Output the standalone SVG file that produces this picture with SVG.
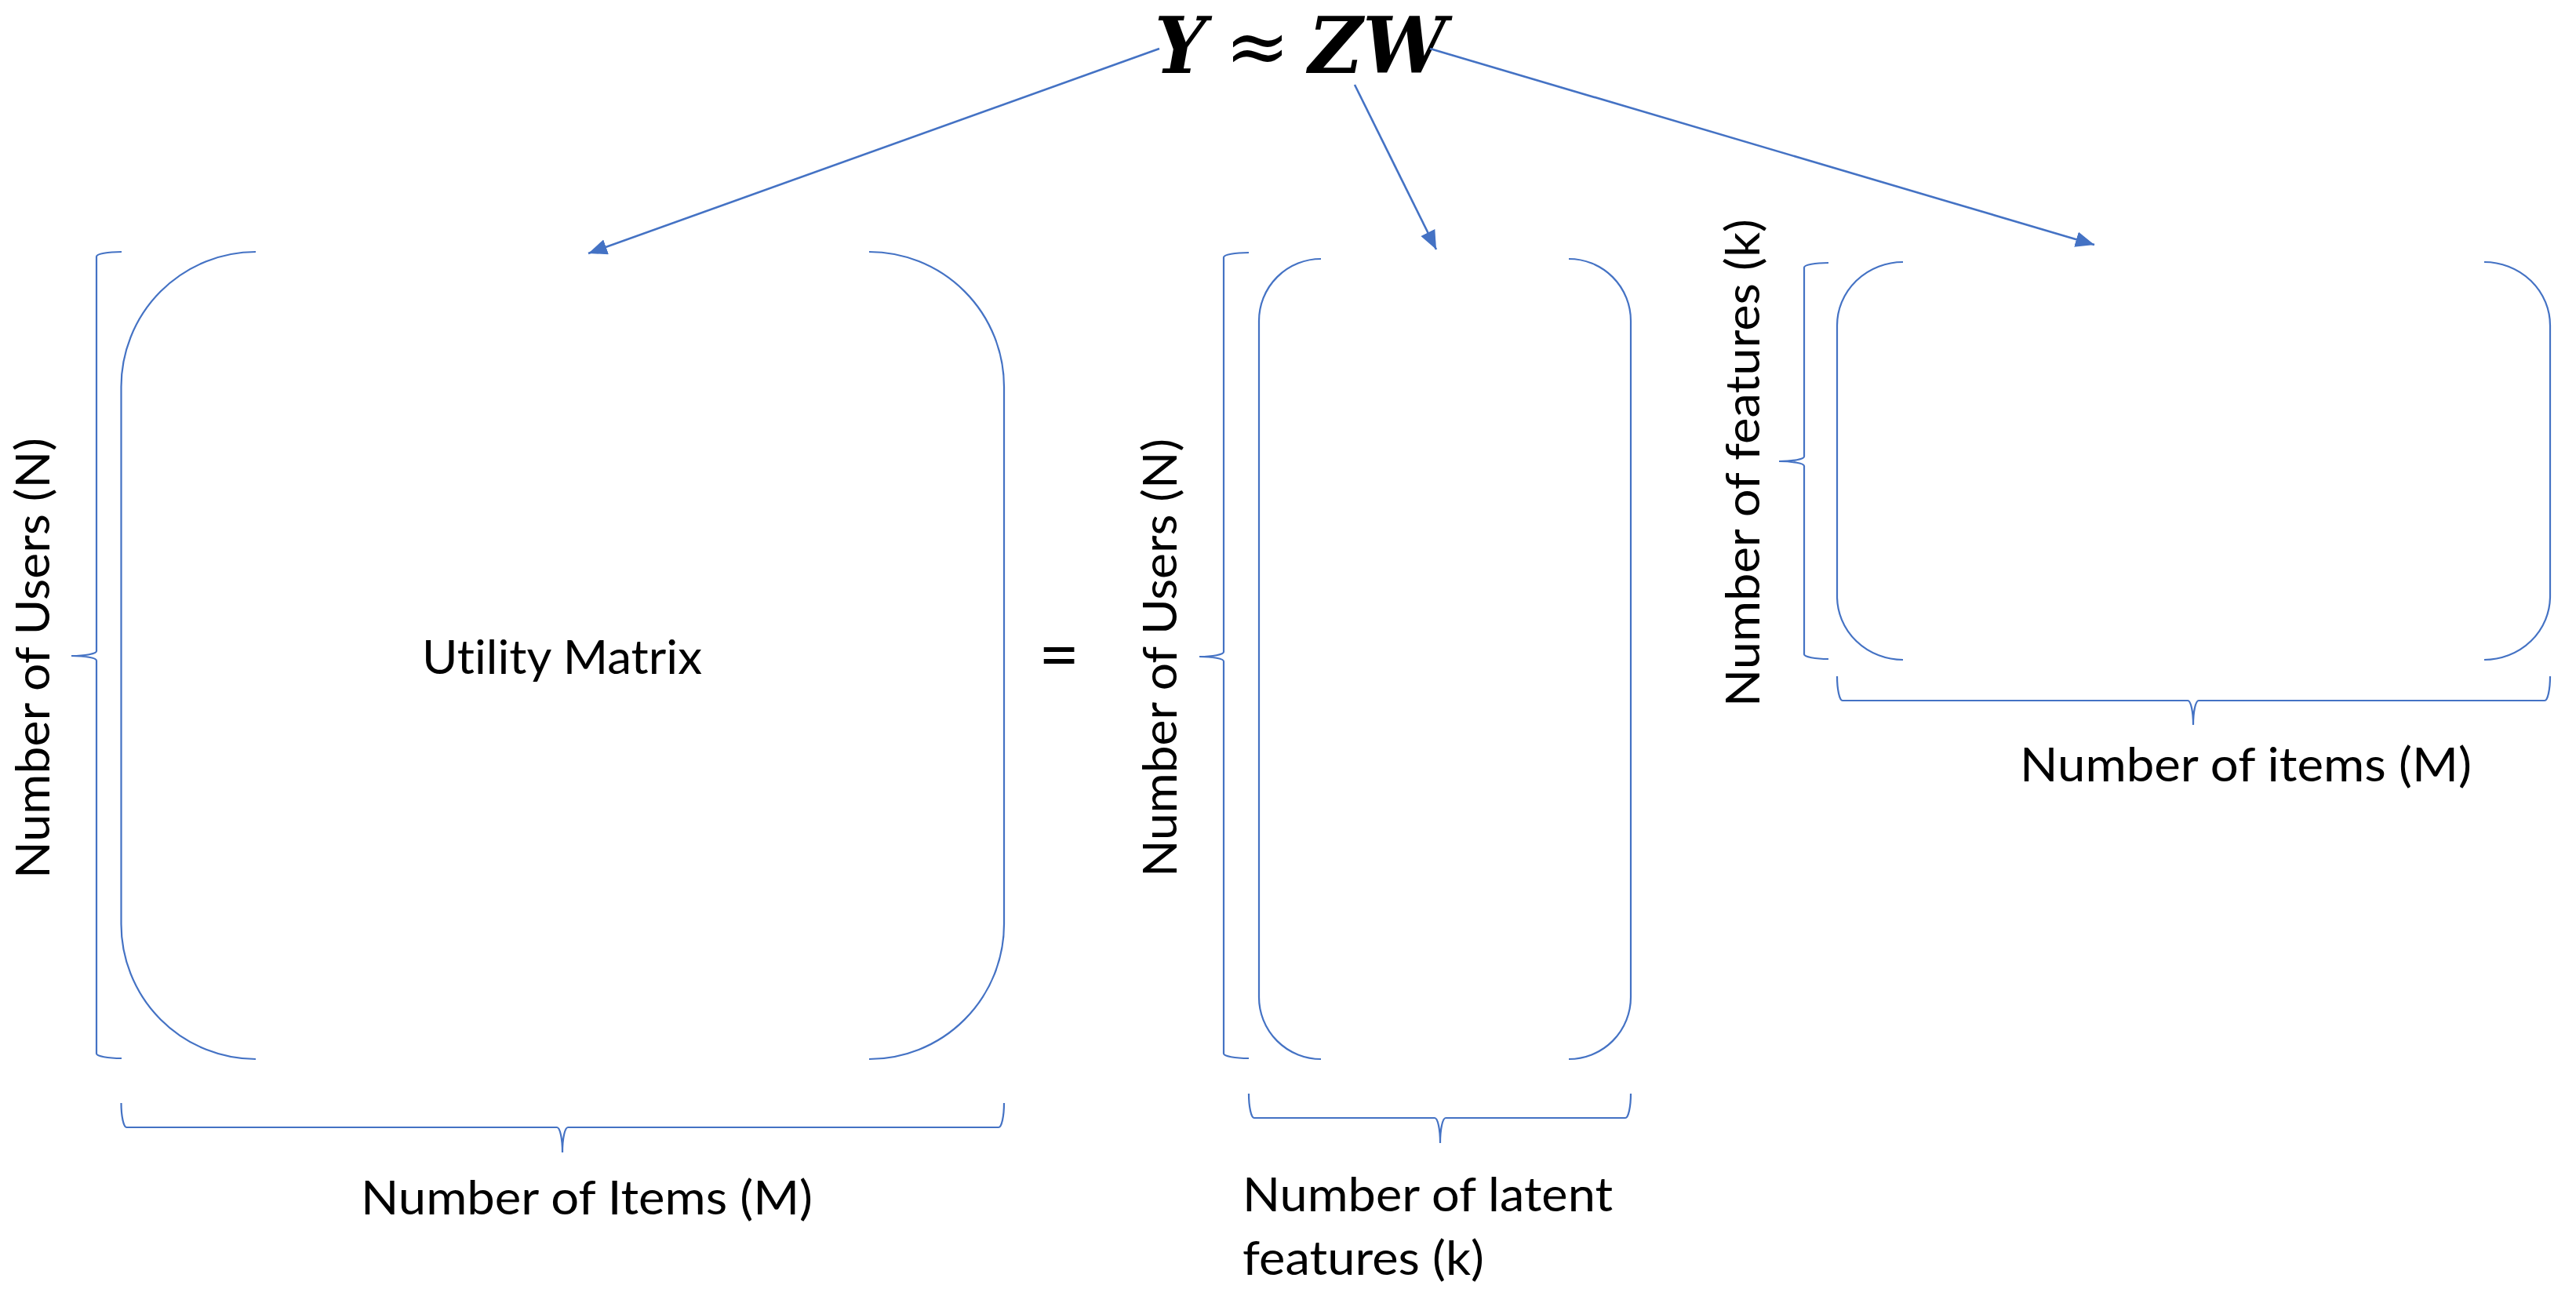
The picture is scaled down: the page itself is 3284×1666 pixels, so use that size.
<svg xmlns="http://www.w3.org/2000/svg" width="3284" height="1666" viewBox="0 0 3284 1666">
<style>
.ln{fill:none;stroke:#4472C4;stroke-width:2.2}
.ar{fill:none;stroke:#4472C4;stroke-width:2.6}
.lb{font-family:Lato,"Open Sans","Liberation Sans",sans-serif;font-size:60px;fill:#000;font-variant-ligatures:none}
.eq{font-family:"DejaVu Serif","Liberation Serif",serif;font-weight:bold;font-style:italic;font-size:99px;fill:#000}
</style>
<defs>
<marker id="ah" markerUnits="userSpaceOnUse" markerWidth="26" markerHeight="22" refX="24" refY="10" orient="auto">
<path d="M0,0 L24,10 L0,20 z" fill="#4472C4"/>
</marker>
</defs>
<rect width="3284" height="1666" fill="#fff"/>

<g id="equation">
<text class="eq" x="1472" y="93" textLength="66" lengthAdjust="spacingAndGlyphs">Y</text>
<text class="eq" x="1603" y="93" text-anchor="middle" style="font-style:normal;font-weight:normal">≈</text>
<text class="eq" x="1668" y="93" textLength="176" lengthAdjust="spacingAndGlyphs">ZW</text>
</g>

<g id="connectors">
<line class="ar" x1="1478" y1="62" x2="750" y2="323" marker-end="url(#ah)"/>
<line class="ar" x1="1727" y1="108" x2="1831" y2="318" marker-end="url(#ah)"/>
<line class="ar" x1="1823" y1="62" x2="2670" y2="312" marker-end="url(#ah)"/>
</g>

<g id="matrix-Y">
<path class="ln" d="M326 321 A172 172 0 0 0 154.5 493 L154.5 1178 A172 172 0 0 0 326 1350"/>
<path class="ln" d="M1108 321 A172 172 0 0 1 1280 493 L1280 1178 A172 172 0 0 1 1108 1350"/>
<path class="ln" d="M155 321 A32 6 0 0 0 123 327 L123 830 A32 6 0 0 1 91 836 A32 6 0 0 1 123 842 L123 1343 A32 6 0 0 0 155 1349"/>
<path class="ln" d="M154.5 1406 A7 31 0 0 0 161.5 1437 L710 1437 A7 32 0 0 1 717 1469 A7 32 0 0 1 724 1437 L1273 1437 A7 31 0 0 0 1280 1406"/>
<text class="lb" transform="translate(63 839) rotate(-90)" text-anchor="middle" textLength="562" lengthAdjust="spacingAndGlyphs">Number of Users (N)</text>
<text class="lb" x="538" y="859" textLength="357" lengthAdjust="spacingAndGlyphs">Utility Matrix</text>
<text class="lb" x="460" y="1548" textLength="576" lengthAdjust="spacingAndGlyphs">Number of Items (M)</text>
</g>

<g id="equals">
<text class="lb" x="1350" y="866" text-anchor="middle" style="font-size:90px">=</text>
</g>

<g id="matrix-Z">
<path class="ln" d="M1684 330 A79 79 0 0 0 1605 409 L1605 1271 A79 79 0 0 0 1684 1350"/>
<path class="ln" d="M2000 330 A79 79 0 0 1 2079 409 L2079 1271 A79 79 0 0 1 2000 1350"/>
<path class="ln" d="M1592 322 A32 6 0 0 0 1560 328 L1560 831 A31 6 0 0 1 1529 837 A31 6 0 0 1 1560 843 L1560 1343 A32 6 0 0 0 1592 1349"/>
<path class="ln" d="M1592 1394 A7 31 0 0 0 1599 1425 L1829 1425 A7 32 0 0 1 1836 1457 A7 32 0 0 1 1843 1425 L2072 1425 A7 31 0 0 0 2079 1394"/>
<text class="lb" transform="translate(1500 838.5) rotate(-90)" text-anchor="middle" textLength="559" lengthAdjust="spacingAndGlyphs">Number of Users (N)</text>
<text class="lb" x="1584" y="1544" textLength="472" lengthAdjust="spacingAndGlyphs">Number of latent</text>
<text class="lb" x="1584" y="1625" textLength="308" lengthAdjust="spacingAndGlyphs">features (k)</text>
</g>

<g id="matrix-W">
<path class="ln" d="M2426 334 A84 81 0 0 0 2342 415 L2342 760 A84 81 0 0 0 2426 841"/>
<path class="ln" d="M3167 334 A84 81 0 0 1 3251 415 L3251 760 A84 81 0 0 1 3167 841"/>
<path class="ln" d="M2331 335 A31 6 0 0 0 2300 341 L2300 582 A32 6 0 0 1 2268 588 A32 6 0 0 1 2300 594 L2300 834 A31 6 0 0 0 2331 840"/>
<path class="ln" d="M2342 862 A7 31 0 0 0 2349 893 L2789 893 A7 31 0 0 1 2796 924 A7 31 0 0 1 2803 893 L3244 893 A7 31 0 0 0 3251 862"/>
<text class="lb" transform="translate(2243 590) rotate(-90)" text-anchor="middle" textLength="622" lengthAdjust="spacingAndGlyphs">Number of features (k)</text>
<text class="lb" x="2575" y="996" textLength="576" lengthAdjust="spacingAndGlyphs">Number of items (M)</text>
</g>
</svg>
